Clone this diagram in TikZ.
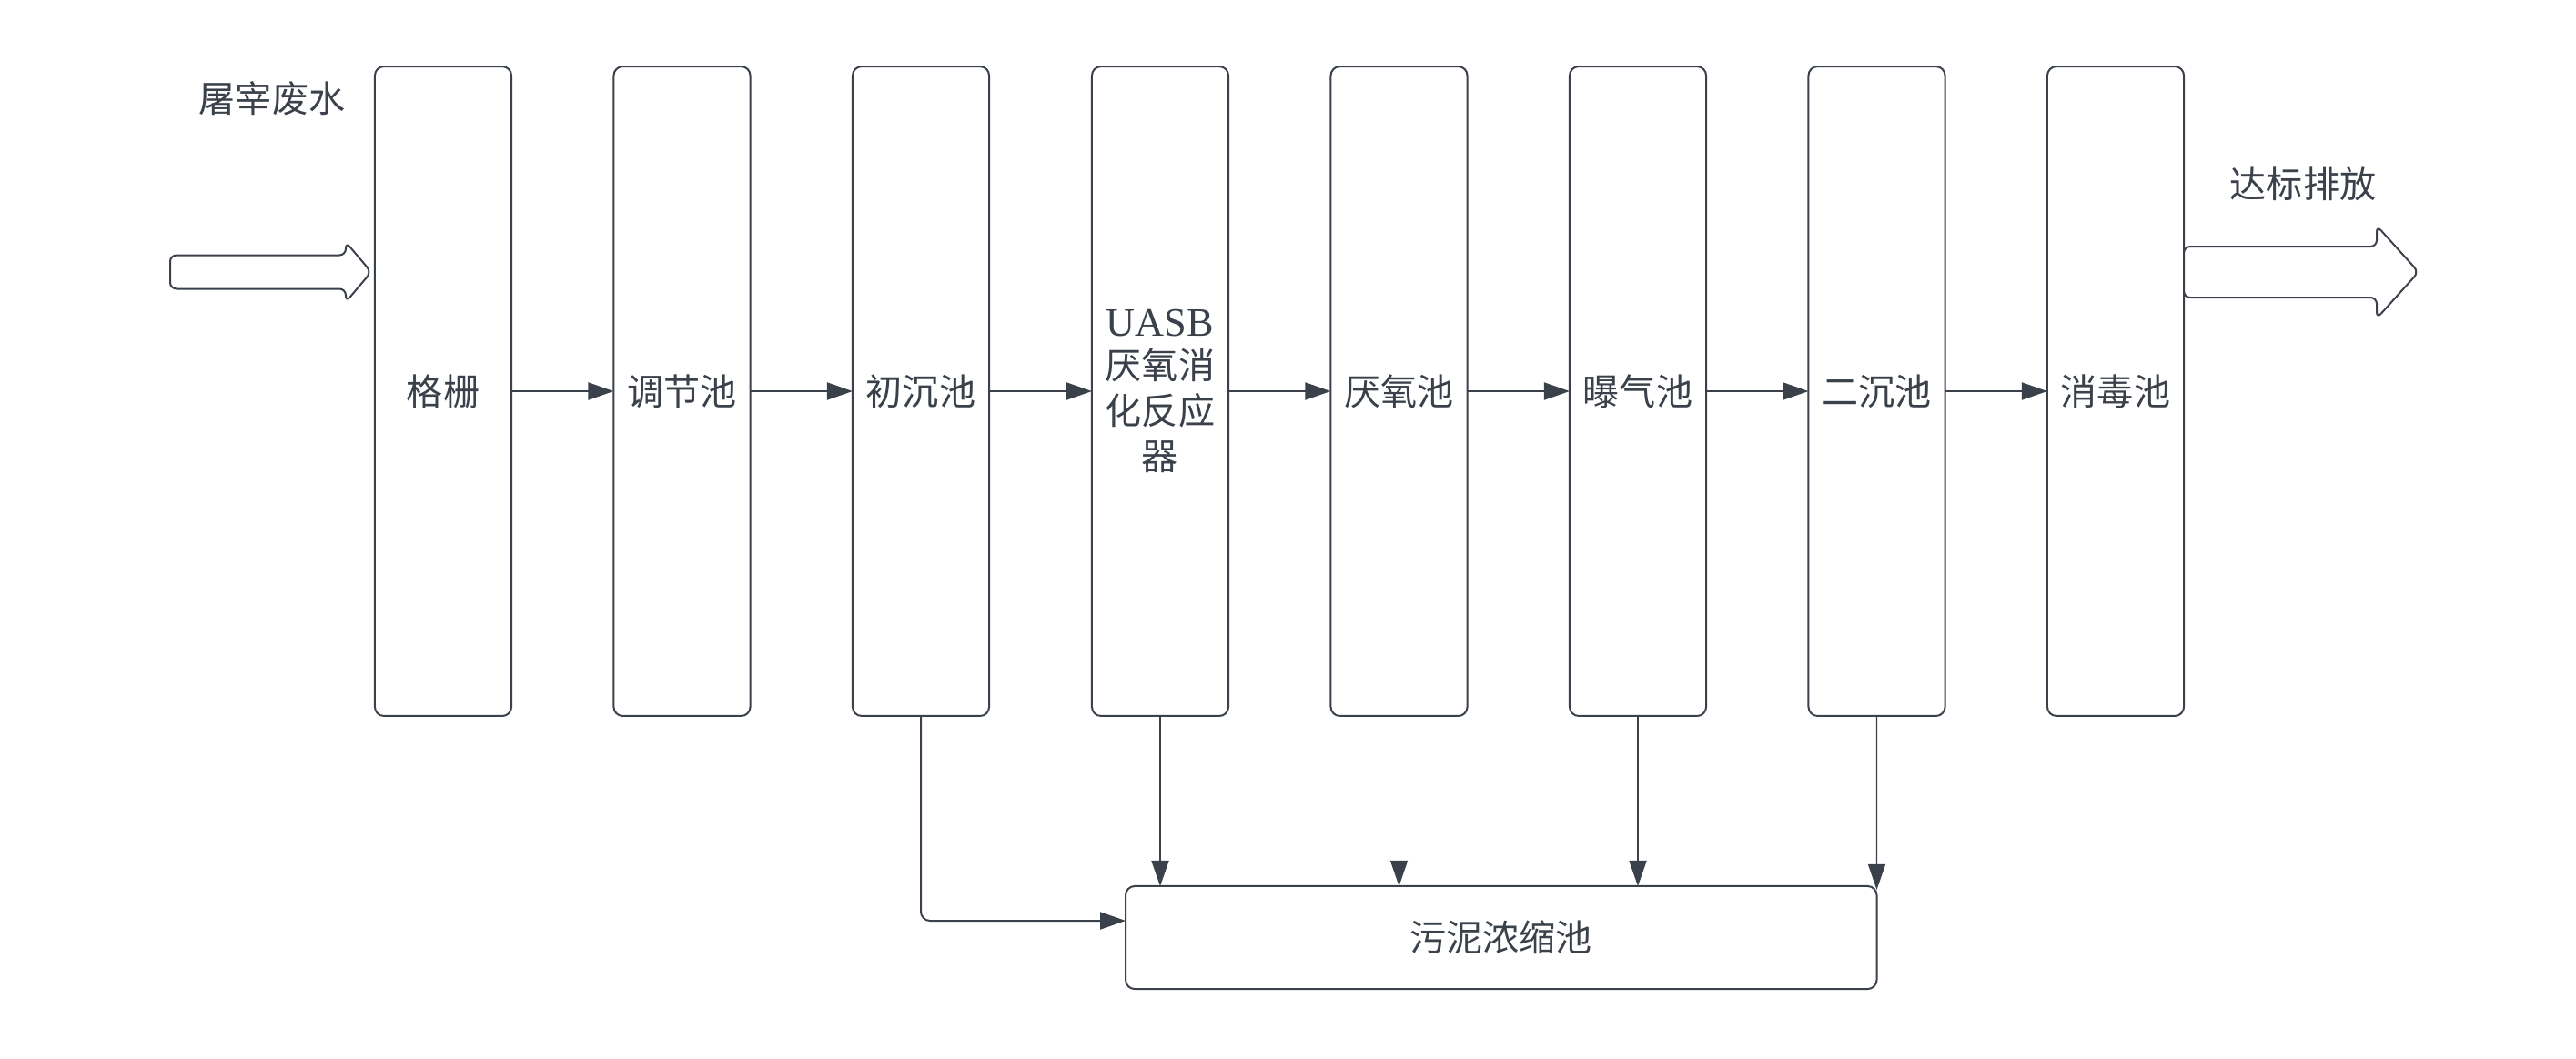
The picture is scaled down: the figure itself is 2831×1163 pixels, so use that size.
\documentclass[tikz,border=0pt]{standalone}
\usepackage{fontspec}
\setmainfont{Noto Sans CJK SC}
\newfontfamily\serifL{Liberation Serif}
\usetikzlibrary{arrows.meta,calc}
\definecolor{ink}{RGB}{58,65,74}
\tikzset{
  tank/.style={draw=ink, line width=0.02cm, rounded corners=0.1cm, fill=white,
    minimum width=1.5cm, minimum height=7.135cm, inner sep=0pt, outer sep=0pt,
    text=ink, font=\fontsize{11.4pt}{14.2pt}\selectfont, align=center},
  sludge/.style={draw=ink, line width=0.02cm, rounded corners=0.1cm, fill=white,
    minimum width=8.25cm, minimum height=1.13cm, inner sep=0pt, outer sep=0pt,
    text=ink, font=\fontsize{11.4pt}{14.2pt}\selectfont},
  lbl/.style={text=ink, inner sep=0pt, font=\fontsize{11.4pt}{14.2pt}\selectfont},
  flow/.style={draw=ink, line width=0.02cm, -{Triangle[length=0.28cm,width=0.19cm]}},
  thinflow/.style={draw=ink, line width=0.012cm, -{Triangle[length=0.28cm,width=0.19cm]}},
  bigarrow/.style={draw=ink, line width=0.02cm, rounded corners=0.07cm, fill=white},
}
\begin{document}
\begin{tikzpicture}[x=0.01cm,y=-0.01cm]
\useasboundingbox[fill=white] (0,0) rectangle (2831,1163);

% labels
\node[lbl] (inlbl) at (299,108) {屠宰废水};
\node[lbl] (outlbl) at (2531,202) {达标排放};

% tanks
\node[tank] (gs)   at (487,430)    {格栅};
\node[tank] (tj)   at (749.5,430)  {调节池};
\node[tank] (cc)   at (1012,430)   {初沉池};
\node[tank] (uasb) at (1275,430) {{\serifL\fontsize{12.6pt}{14.2pt}\selectfont UASB}\\[-1pt]厌氧消\\化反应\\器};
\node[tank] (yy)   at (1537.5,430) {厌氧池};
\node[tank] (bq)   at (1800,430)   {曝气池};
\node[tank] (ec)   at (2062.5,430) {二沉池};
\node[tank] (xd)   at (2325,430)   {消毒池};

% sludge thickener
\node[sludge] (wn) at (1649.75,1030.5) {污泥浓缩池};

% block arrows
\draw[bigarrow] (187,280.5) -- (380,280.5) -- (380,266) -- (408,299) -- (380,332) -- (380,317.5) -- (187,317.5) -- cycle;
\draw[bigarrow] (2400,271) -- (2612,271) -- (2612,248) -- (2658,299) -- (2612,350) -- (2612,327) -- (2400,327) -- cycle;

% main flow
\draw[flow] (gs.east) -- (tj.west);
\draw[flow] (tj.east) -- (cc.west);
\draw[flow] (cc.east) -- (uasb.west);
\draw[flow] (uasb.east) -- (yy.west);
\draw[flow] (yy.east) -- (bq.west);
\draw[flow] (bq.east) -- (ec.west);
\draw[flow] (ec.east) -- (xd.west);

% sludge lines
\draw[flow, rounded corners=0.1cm] (cc.south) |- ([yshift=0.185cm]wn.west);
\draw[flow] (uasb.south) -- (uasb.south |- wn.north);
\draw[thinflow] (yy.south) -- (yy.south |- wn.north);
\draw[flow] (bq.south) -- (bq.south |- wn.north);
\draw[thinflow] (ec.south) -- ([yshift=-0.04cm]wn.north east);
\end{tikzpicture}
\end{document}
